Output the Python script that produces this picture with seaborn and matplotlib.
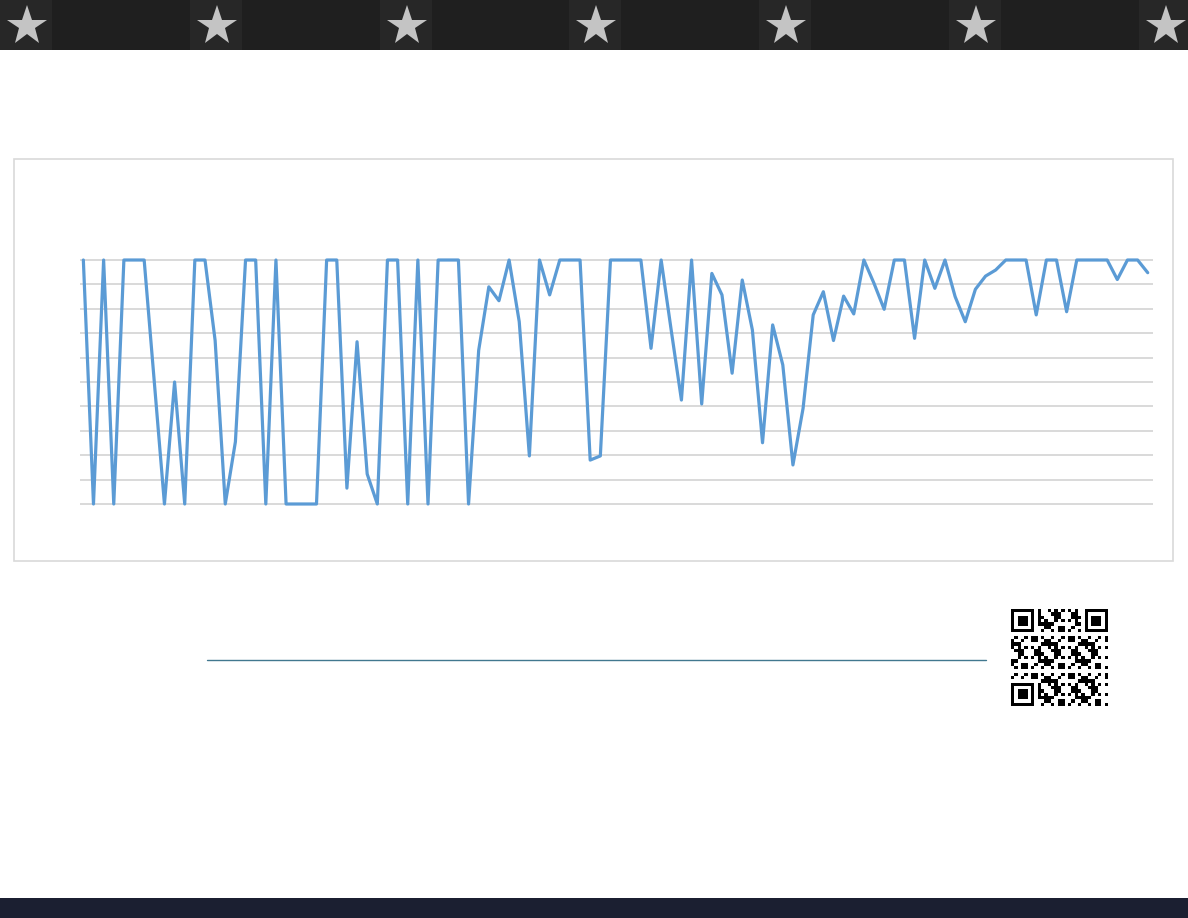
import numpy as np
import pandas as pd
import matplotlib
matplotlib.use("Agg")
import matplotlib.pyplot as plt
from matplotlib.patches import Rectangle
import seaborn as sns

# values (0-100 scale, one point per step)
values = [100, 0, 100, 0, 100, 100, 100, 50, 0, 50,
          0, 100, 100, 67, 0, 25.5, 100, 100, 0, 100,
          0, 0, 0, 0, 100, 100, 6.5, 66.5, 12.3, 0,
          100, 100, 0, 100, 0, 100, 100, 100, 0, 63,
          89, 83.3, 100, 74.7, 19.7, 100, 85.7, 100, 100, 100,
          18, 19.7, 100, 100, 100, 100, 63.8, 100, 71, 42.6,
          100, 41, 94.5, 85.7, 53.6, 91.8, 71.3, 25.1, 73.4, 57,
          16, 39.2, 77.5, 87, 67, 85.2, 77.9, 100, 90.4, 79.8,
          100, 100, 67.9, 100, 88.4, 100, 85, 74.7, 88, 93.4,
          95.9, 100, 100, 100, 77.5, 100, 100, 78.8, 100, 100,
          100, 100, 92, 100, 100, 94.8]
steps = list(range(len(values)))
grid_levels = [0, 10, 20, 30, 40, 50, 60, 70, 80, 90, 100]

W, H = 1188, 918
sns.set_theme(style="white")
fig = plt.figure(figsize=(W / 100, H / 100), dpi=100)
fig.patch.set_facecolor("white")


def fx(px):
    return px / W


def fy(py):
    return 1 - py / H


# top banner with stars
fig.patches.append(Rectangle((0, fy(50)), 1, 50 / H, transform=fig.transFigure,
                             facecolor="#1f1f1f", edgecolor="none", zorder=0))
for k in range(7):
    x0 = k * 189.8
    fig.patches.append(Rectangle((fx(x0), fy(50)), 52 / W, 50 / H, transform=fig.transFigure,
                                 facecolor="#272727", edgecolor="none", zorder=1))
    fig.lines.append(plt.Line2D([fx(x0 + 27)], [fy(26)], transform=fig.transFigure,
                                marker="*", markersize=30, color="#c4c4c4",
                                markeredgewidth=0, linestyle="none", zorder=2))

# chart frame
fig.patches.append(Rectangle((fx(14), fy(561)), 1159 / W, 402 / H, transform=fig.transFigure,
                             facecolor="white", edgecolor="#d9d9d9", linewidth=1.2, zorder=1))

# plot area
ax = fig.add_axes([fx(80), fy(510), (1153 - 80) / W, 260 / H])
ax.set_facecolor("none")
ax.set_zorder(3)
for lv in grid_levels:
    ax.axhline(lv, color="#d9d9d9", linewidth=1.4, zorder=1)

df = pd.DataFrame({"step": steps, "value": values})
sns.lineplot(data=df, x="step", y="value", ax=ax, color="#5b9bd5",
             linewidth=2.3, zorder=3)
ax.set_xlim(-0.33, 105.52)
ax.set_ylim(-2.46, 104.1)
ax.set_xlabel("")
ax.set_ylabel("")
ax.set_xticks([])
ax.set_yticks([])
for s in ax.spines.values():
    s.set_visible(False)

# bottom rule
fig.lines.append(plt.Line2D([fx(207), fx(986)], [fy(660), fy(660)], transform=fig.transFigure,
                            color="#41788f", linewidth=1.0, zorder=2))

# QR-like block (decoration)
qax = fig.add_axes([fx(1011), fy(706), 97 / W, 97 / H])
n = 29
qr = np.zeros((n, n))
for i in range(n):
    for j in range(n):
        qr[i, j] = 1 if ((i * 31 + j * 17 + i * j * 7) % 11) < 5 else 0


def finder(r, c):
    rr0, rr1 = max(r - 1, 0), min(r + 8, n)
    cc0, cc1 = max(c - 1, 0), min(c + 8, n)
    qr[rr0:rr1, cc0:cc1] = 0
    qr[r:r + 7, c:c + 7] = 1
    qr[r + 1:r + 6, c + 1:c + 6] = 0
    qr[r + 2:r + 5, c + 2:c + 5] = 1


finder(0, 0)
finder(0, n - 7)
finder(n - 7, 0)
qax.imshow(qr, cmap="Greys", interpolation="nearest", vmin=0, vmax=1)
qax.axis("off")

# bottom band
fig.patches.append(Rectangle((0, 0), 1, 20 / H, transform=fig.transFigure,
                             facecolor="#1b1f31", edgecolor="none", zorder=0))

fig.savefig("out.png", dpi=100)
